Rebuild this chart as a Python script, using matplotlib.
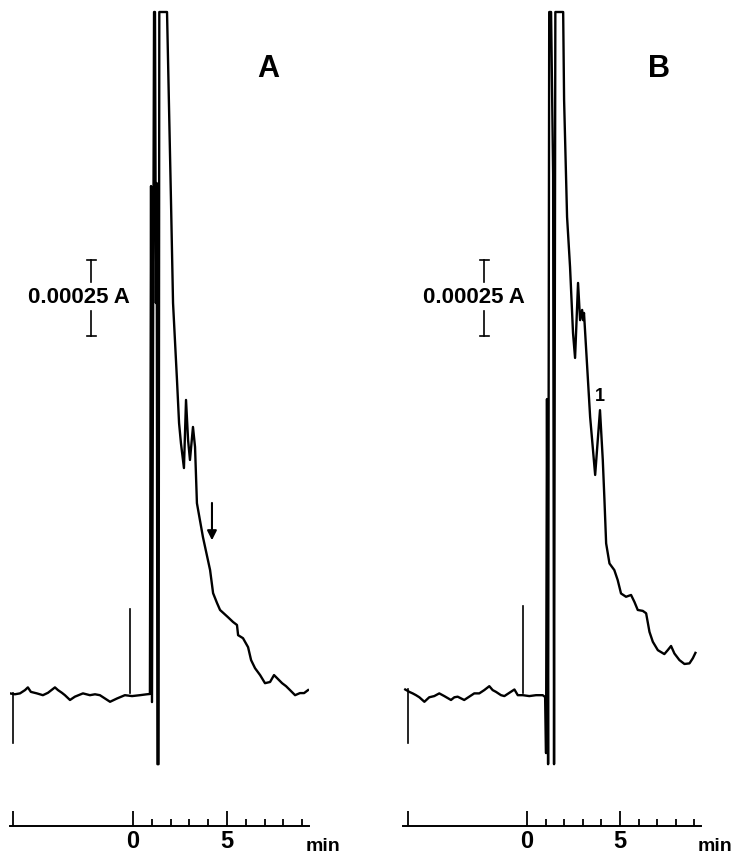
import matplotlib
matplotlib.use("Agg")
import matplotlib.pyplot as plt

plt.rcParams['font.family'] = ['Liberation Sans', 'DejaVu Sans']

# trace A (time in min, absorbance in 1e-4 A, baseline = 0)
time_a = [-6.54, -6.28, -6.01, -5.74, -5.59, -5.43, -5.11, -4.79, -4.52, -4.15, -3.99, -3.78, -3.62, -3.35,
          -3.09, -2.66, -2.29, -2.02, -1.76, -1.49, -1.22, -0.85, -0.43, -0.05, 0.37, 0.74, 0.90,
          0.96, 1.01, 1.12, 1.17, 1.22, 1.26, 1.30, 1.36, 1.40, 1.81,
          2.02, 2.13, 2.34, 2.45, 2.55, 2.71, 2.82, 2.93, 3.03, 3.19, 3.30, 3.40, 3.72, 4.10,
          4.26, 4.47, 4.63, 5.05, 5.32, 5.53, 5.59, 5.85, 6.12, 6.28, 6.49, 6.76, 7.02, 7.29, 7.50, 7.66,
          7.93, 8.14, 8.35, 8.62, 8.88, 9.10, 9.31]
signal_a = [-0.01, -0.04, -0.01, 0.10, 0.19, 0.04, -0.01, -0.07, 0.01, 0.19, 0.10, 0.01, -0.07, -0.23,
            -0.12, -0.01, -0.07, -0.04, -0.07, -0.18, -0.29, -0.18, -0.07, -0.10, -0.07, -0.04, -0.03,
            16.9, -0.3, 22.7, 22.7, 13.0, 17.0, -2.37, -2.37, 22.7, 22.7,
            16.43, 13.0, 10.43, 9.0, 8.33, 7.5, 9.77, 8.43, 7.77, 8.87, 8.2, 6.33, 5.2, 4.1,
            3.33, 3.0, 2.77, 2.53, 2.37, 2.27, 1.93, 1.83, 1.53, 1.1, 0.83, 0.6, 0.33, 0.37, 0.6, 0.5,
            0.33, 0.23, 0.1, -0.07, 0.0, 0.0, 0.1]

# trace B
time_b = [-6.55, -6.33, -6.15, -5.97, -5.79, -5.52, -5.26, -4.99, -4.72, -4.45, -4.09, -3.91, -3.73, -3.38,
          -3.11, -2.84, -2.57, -2.30, -2.03, -1.85, -1.67, -1.40, -1.22, -0.95, -0.68, -0.50, -0.23, 0.12,
          0.48, 0.84, 0.97,
          1.02, 1.07, 1.13, 1.19, 1.29, 1.40, 1.45, 1.52, 1.94,
          1.99, 2.15, 2.31, 2.47, 2.58, 2.74, 2.85, 2.96, 3.01, 3.06, 3.39, 3.66, 3.92, 4.07, 4.16, 4.25,
          4.43, 4.69, 4.87, 5.05, 5.32, 5.59, 5.77, 5.95, 6.22, 6.40, 6.58, 6.76, 7.03, 7.38, 7.56, 7.74,
          7.92, 8.19, 8.46, 8.73, 8.91, 9.05]
signal_b = [0.12, 0.04, -0.01, -0.07, -0.14, -0.29, -0.14, -0.10, -0.01, -0.10, -0.23, -0.14, -0.12, -0.23,
            -0.12, -0.01, -0.01, 0.10, 0.23, 0.10, 0.04, -0.07, -0.10, 0.01, 0.12, -0.07, -0.07, -0.10,
            -0.07, -0.07, -0.13,
            -2.0, 9.8, -2.37, 22.7, 22.7, 17.3, -2.37, 22.7, 22.7,
            19.77, 15.87, 14.2, 12.0, 11.17, 13.67, 12.43, 12.77, 12.43, 12.67, 9.2, 7.27, 9.43, 7.77, 6.43, 4.99,
            4.32, 4.1, 3.77, 3.32, 3.21, 3.27, 3.04, 2.77, 2.74, 2.66, 2.04, 1.71, 1.43, 1.3, 1.43, 1.57,
            1.32, 1.1, 0.97, 0.99, 1.16, 1.34]

# pen marks: start mark and injection mark
start_a, start_b = -6.38, -6.40
inject_a, inject_b = -0.16, -0.22
inject_height_a, inject_height_b = 2.8, 2.9
peak1_time, peak1_signal = 3.92, 9.87
arrow_time = 4.2

fig = plt.figure(figsize=(7.38, 8.55), dpi=100)
ax_a = fig.add_axes([10/738, 29/855, 299/738, 826/855])
ax_b = fig.add_axes([403/738, 29/855, 298/738, 826/855])

panels = [(ax_a, time_a, signal_a, start_a, inject_a, inject_height_a, 'A', (-6.54, 9.36), -2.23, -2.87),
          (ax_b, time_b, signal_b, start_b, inject_b, inject_height_b, 'B', (-6.67, 9.35), -2.31, -2.85)]

for ax, t, s, t0, tinj, hinj, letter, xlim, bar_t, txt_t in panels:
    ax.plot(t, s, color='black', lw=1.7, solid_joinstyle='round')
    ax.plot([t0, t0], [s[0], -1.65], color='black', lw=1.2)
    ax.plot([tinj, tinj], [0, hinj], color='black', lw=1.2)

    # 0.00025 A scale bar
    ax.plot([bar_t, bar_t], [14.43, 13.7], color='black', lw=1.2)
    ax.plot([bar_t, bar_t], [12.73, 11.9], color='black', lw=1.2)
    ax.plot([bar_t - 0.24, bar_t + 0.24], [14.43, 14.43], color='black', lw=1.2)
    ax.plot([bar_t - 0.24, bar_t + 0.24], [11.9, 11.9], color='black', lw=1.2)
    ax.text(txt_t, 13.2, '0.00025 A', fontsize=16, fontweight='bold', ha='center', va='center')

    ax.text(xlim[0] + 13.75, 20.8, letter, fontsize=22, fontweight='bold', ha='center', va='center')
    ax.text(10.1, -5.1, 'min', fontsize=14, fontweight='bold', ha='center', va='center', clip_on=False)

    ax.set_xlim(*xlim)
    ax.set_ylim(-4.43, 23.1)
    for side in ['top', 'right', 'left']:
        ax.spines[side].set_visible(False)
    ax.spines['bottom'].set_linewidth(1.4)
    ax.set_yticks([])
    ax.set_xticks([t0, 0, 5])
    ax.set_xticklabels(['', '0', '5'])
    ax.set_xticks([1, 2, 3, 4, 6, 7, 8, 9], minor=True)
    ax.tick_params(axis='x', which='major', direction='in', length=11, width=1.3, pad=3, labelsize=17)
    ax.tick_params(axis='x', which='minor', direction='in', length=5, width=1.3)
    for lab in ax.get_xticklabels():
        lab.set_fontweight('bold')

ax_a.annotate('', xy=(arrow_time, 5.0), xytext=(arrow_time, 6.43),
              arrowprops=dict(arrowstyle='-|>', color='black', lw=1.5, mutation_scale=14))
ax_b.text(peak1_time, peak1_signal, '1', fontsize=13, fontweight='bold', ha='center', va='center')

plt.savefig('out.png', dpi=100)
